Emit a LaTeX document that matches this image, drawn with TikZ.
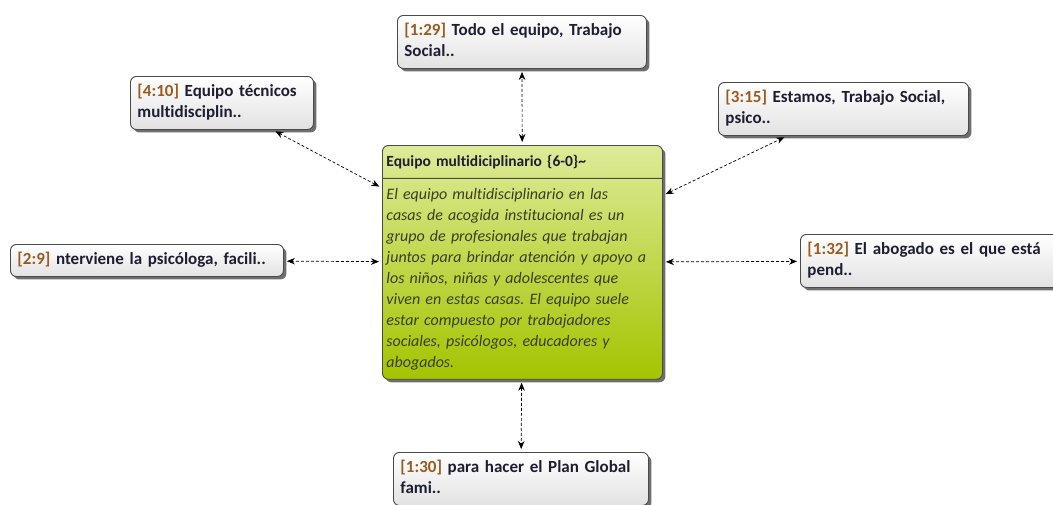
\documentclass[tikz,border=0pt]{standalone}
\usepackage{fontspec}
\setmainfont{Carlito}[Ligatures=NoCommon]
\usepackage{xcolor}
\usetikzlibrary{positioning,shapes.multipart,shadows,arrows.meta}

\newcommand\qtag[1]{\textcolor{tagbrown}{#1}}
\frenchspacing

\begin{document}
\begin{tikzpicture}[
  quote/.style={draw=edge, line width=0.9pt, rounded corners=6pt,
    top color=white, bottom color=quotebot,
    drop shadow={shadow xshift=3pt,shadow yshift=-3pt,fill=shade,opacity=0.9},
    anchor=north west, align=left, text=ink, inner xsep=7pt, inner ysep=5.5pt,
    font=\bfseries\fontsize{17}{21}\selectfont,
    execute at begin node=\strut, execute at end node=\strut},
  hub/.style={rectangle split, rectangle split parts=2,
    draw=edge, line width=0.9pt, rounded corners=6pt,
    top color=hubtop, bottom color=hubbot,
    drop shadow={shadow xshift=3pt,shadow yshift=-3pt,fill=shade,opacity=0.9},
    anchor=north west, align=left, text=ink, inner xsep=4pt, inner ysep=5.5pt,
    font=\fontsize{15.5}{21}\selectfont},
  link/.style={densely dashed, line width=0.7pt,
    {Stealth[length=8pt,width=6.5pt]}-{Stealth[length=8pt,width=6.5pt]},
    shorten <=3pt, shorten >=3pt},
  x=1pt,y=-1pt]

  \definecolor{edge}{HTML}{4A4A4A}
  \definecolor{shade}{HTML}{5E5E5E}
  \definecolor{quotebot}{HTML}{E2E2E2}
  \definecolor{hubtop}{HTML}{DDEB98}
  \definecolor{hubbot}{HTML}{A4C400}
  \definecolor{ink}{HTML}{1E1E32}
  \definecolor{bodyink}{HTML}{3B3F1E}
  \definecolor{tagbrown}{HTML}{9C5A1E}

  \useasboundingbox (0,0) rectangle (1053,504);

  % ------------------- centre ----------------------
  \node[hub, text width=272pt] (hub) at (382,145)
    {\strut\textbf{Equipo multidiciplinario \{6-0\}\textasciitilde}\strut
     \nodepart{two}\color{bodyink}\fontsize{16}{21}\selectfont\itshape\strut
     El equipo multidisciplinario en las\\
     casas de acogida institucional es un\\
     grupo de profesionales que trabajan\\
     juntos para brindar atención y apoyo a\\
     los niños, niñas y adolescentes que\\
     viven en estas casas. El equipo suele\\
     estar compuesto por trabajadores\\
     sociales, psicólogos, educadores y\\
     abogados.\strut};

  % ------------------- quotes ----------------------
  \node[quote, text width=235pt] (q129) at (397,15)
    {\qtag{[1:29]} Todo el equipo, Trabajo\\Social..};
  \node[quote, text width=169pt] (q410) at (130,76)
    {\qtag{[4:10]} Equipo técnicos\\multidisciplin..};
  \node[quote, text width=236pt] (q315) at (718,82)
    {\qtag{[3:15]} Estamos, Trabajo Social,\\psico..};
  \node[quote, text width=259pt] (q29) at (10,244)
    {\qtag{[2:9]} nterviene la psicóloga, facili..};
  \node[quote, text width=248pt] (q132) at (800,234)
    {\qtag{[1:32]} El abogado es el que está\\pend..};
  \node[quote, text width=241pt] (q130) at (393,452)
    {\qtag{[1:30]} para hacer el Plan Global\\fami..};

  % ------------------- links ----------------------
  \draw[link] (hub) -- (q129);
  \draw[link] (hub) -- (q410);
  \draw[link] (hub) -- (q315);
  \draw[link] (hub) -- (q29);
  \draw[link] (hub) -- (q132);
  \draw[link] (hub) -- (q130);
\end{tikzpicture}
\end{document}
